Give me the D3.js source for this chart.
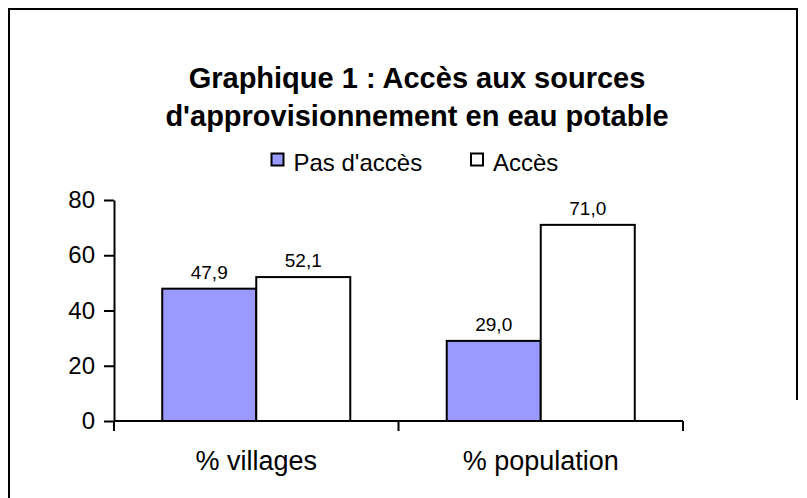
<!DOCTYPE html>
<html>
<head>
<meta charset="utf-8">
<script src="https://cdn.jsdelivr.net/npm/d3@7"></script>
<style>
  body { margin: 0; background: #fff; }
  svg { display: block; font-family: "Liberation Sans", Arial, sans-serif; }
</style>
</head>
<body>
<div id="chart"></div>
<script>
// data
var categories = ["% villages", "% population"]
var series = ["Pas d'accès", "Accès"]
var pasAcces = [47.9, 29.0]
var acces = [52.1, 71.0]
var yTicks = [0, 20, 40, 60, 80]
var titleLines = ["Graphique 1 : Accès aux sources", "d'approvisionnement en eau potable"]
var colors = ["#9999ff", "#ffffff"]

var width = 807, height = 498

var svg = d3.select("#chart").append("svg")
    .attr("width", width)
    .attr("height", height)

// outer frame
svg.append("path")
    .attr("d", "M9,498 V9 H797 V400")
    .attr("fill", "none")
    .attr("stroke", "#000")
    .attr("stroke-width", 2)

// title
svg.append("text")
    .attr("text-anchor", "middle")
    .attr("font-size", 29)
    .attr("font-weight", "bold")
    .selectAll("tspan")
    .data(titleLines)
    .enter().append("tspan")
    .attr("x", 417)
    .attr("y", function (d, i) { return 88 + i * 38 })
    .text(function (d) { return d })

// legend
var legendX = [271.5, 471]
var leg = svg.selectAll(".leg")
    .data(series)
    .enter().append("g")
    .attr("class", "leg")
    .attr("transform", function (d, i) { return "translate(" + legendX[i] + ",153.5)" })
leg.append("rect")
    .attr("width", 12).attr("height", 12)
    .attr("fill", function (d, i) { return colors[i] })
    .attr("stroke", "#000").attr("stroke-width", 2)
leg.append("text")
    .attr("x", 22).attr("y", 17.5)
    .attr("font-size", 24)
    .text(function (d) { return d })

// scales
var x0 = d3.scaleBand().domain(categories).range([114, 683]).padding(0)
var x1 = d3.scaleBand().domain(series).range([0, x0.bandwidth()]).paddingInner(0).paddingOuter(0.513)
var y = d3.scaleLinear().domain([0, 80]).range([421, 200])

// y axis
var yAxis = svg.append("g")
    .attr("transform", "translate(114,0)")
    .call(d3.axisLeft(y).tickValues(yTicks).tickSize(10).tickSizeOuter(0).tickPadding(9))
yAxis.select(".domain").attr("stroke-width", 2)
yAxis.selectAll(".tick line").attr("stroke-width", 2)
yAxis.selectAll("text").attr("font-size", 24).attr("font-family", null).attr("fill", "#000")

// bars
var rows = categories.map(function (c, i) { return {cat: c, vals: [pasAcces[i], acces[i]]} })
var fmt = d3.formatLocale({decimal: ",", thousands: " ", grouping: [3], currency: ["", ""]}).format(".1f")

var grp = svg.selectAll(".grp")
    .data(rows)
    .enter().append("g")
    .attr("class", "grp")
    .attr("transform", function (d) { return "translate(" + x0(d.cat) + ",0)" })

grp.selectAll("rect")
    .data(function (d) { return d.vals.map(function (v, i) { return {s: series[i], v: v, i: i} }) })
    .enter().append("rect")
    .attr("x", function (d) { return x1(d.s) })
    .attr("y", function (d) { return y(d.v) })
    .attr("width", x1.bandwidth())
    .attr("height", function (d) { return y(0) - y(d.v) })
    .attr("fill", function (d) { return colors[d.i] })
    .attr("stroke", "#000")
    .attr("stroke-width", 2)

grp.selectAll(".lbl")
    .data(function (d) { return d.vals.map(function (v, i) { return {s: series[i], v: v} }) })
    .enter().append("text")
    .attr("class", "lbl")
    .attr("x", function (d) { return x1(d.s) + x1.bandwidth() / 2 })
    .attr("y", function (d) { return y(d.v) - 10 })
    .attr("text-anchor", "middle")
    .attr("font-size", 19)
    .text(function (d) { return fmt(d.v) })

// x axis with ticks at category boundaries
var bounds = categories.map(function (c) { return x0(c) }).concat([x0.range()[1]])
var xAxis = svg.append("g")
xAxis.append("line")
    .attr("x1", x0.range()[0]).attr("x2", x0.range()[1])
    .attr("y1", y(0)).attr("y2", y(0))
    .attr("stroke", "#000").attr("stroke-width", 2)
xAxis.selectAll(".xt")
    .data(bounds)
    .enter().append("line")
    .attr("x1", function (d) { return d }).attr("x2", function (d) { return d })
    .attr("y1", y(0)).attr("y2", y(0) + 10)
    .attr("stroke", "#000").attr("stroke-width", 2)
xAxis.selectAll(".xl")
    .data(categories)
    .enter().append("text")
    .attr("x", function (d) { return x0(d) + x0.bandwidth() / 2 })
    .attr("y", 470)
    .attr("text-anchor", "middle")
    .attr("font-size", 27)
    .text(function (d) { return d })
</script>
</body>
</html>
